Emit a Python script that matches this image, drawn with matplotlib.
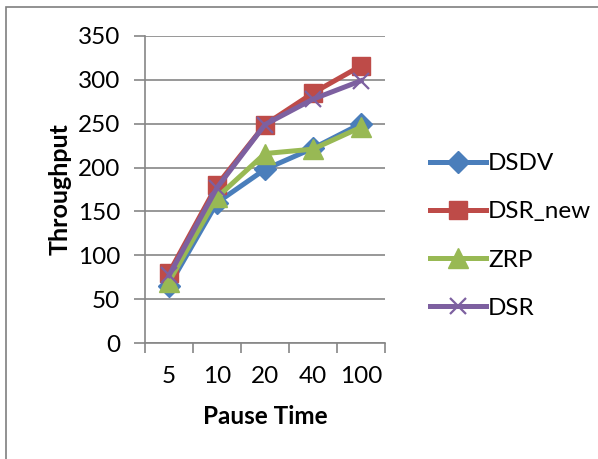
import matplotlib
matplotlib.use("Agg")
import matplotlib.pyplot as plt
from matplotlib.patches import Rectangle

plt.rcParams['font.family'] = ['Lato', 'DejaVu Sans']

categories = ["5", "10", "20", "40", "100"]
dsdv = [65, 160, 198, 222, 250]
dsr_new = [80, 180, 249, 285, 316]
zrp = [70, 166, 216, 221, 246]
dsr = [77, 177, 249, 278, 299]
y_ticks = [0, 50, 100, 150, 200, 250, 300, 350]

FS = 17.5

fig = plt.figure(figsize=(5.98, 4.59), dpi=100)
fig.patch.set_facecolor('white')
# outer chart frame
fig.add_artist(Rectangle((6/598, -0.01), 1.0, 1 - 7/459 + 0.01, transform=fig.transFigure,
                         fill=False, edgecolor='#7f7f7f', linewidth=1.2))

ax = fig.add_axes([145/598, 1 - 343/459, 240/598, 307/459])
x = list(range(len(categories)))
grey = '#868686'
LW = 3.6
ax.plot(x, dsdv, color='#4a7ebb', lw=LW, marker='D', ms=11, label='DSDV', zorder=3)
ax.plot(x, dsr_new, color='#be4b48', lw=LW, marker='s', ms=13, label='DSR_new', zorder=3)
ax.plot(x, zrp, color='#98b954', lw=LW, marker='^', ms=14, label='ZRP', zorder=4)
ax.plot(x, dsr, color='#7d60a0', lw=LW, marker='x', ms=12, mew=1.6, label='DSR', zorder=5)

ax.set_xlim(-0.5, len(categories) - 0.5)
ax.set_ylim(0, 350)
ax.set_yticks(y_ticks)
ax.set_yticklabels([str(v) for v in y_ticks], fontsize=FS)
ax.set_xticks(x)
ax.set_xticklabels(categories, fontsize=FS)
ax.set_xticks([i - 0.5 for i in range(len(categories) + 1)], minor=True)
ax.tick_params(axis='x', which='major', length=0, pad=16.5)
ax.tick_params(axis='x', which='minor', length=7, color=grey, width=1.2, direction='out')
ax.tick_params(axis='y', length=8, color=grey, width=1.2, pad=10)
ax.grid(axis='y', color=grey, lw=1.2)
ax.set_axisbelow(True)
for s in ['top', 'right']:
    ax.spines[s].set_visible(False)
for s in ['left', 'bottom']:
    ax.spines[s].set_color(grey)
    ax.spines[s].set_linewidth(1.2)

ax.set_ylabel('Throughput', fontsize=18, fontweight='bold', labelpad=4)
ax.set_xlabel('Pause Time', fontsize=FS, fontweight='bold', labelpad=13)

fig.legend(loc='center left', bbox_to_anchor=(420/598, 1 - 236/459), frameon=False,
           fontsize=FS, labelspacing=1.12, handlelength=2.3, handletextpad=0.1,
           borderaxespad=0)

fig.savefig('out.png', dpi=100, facecolor='white')
